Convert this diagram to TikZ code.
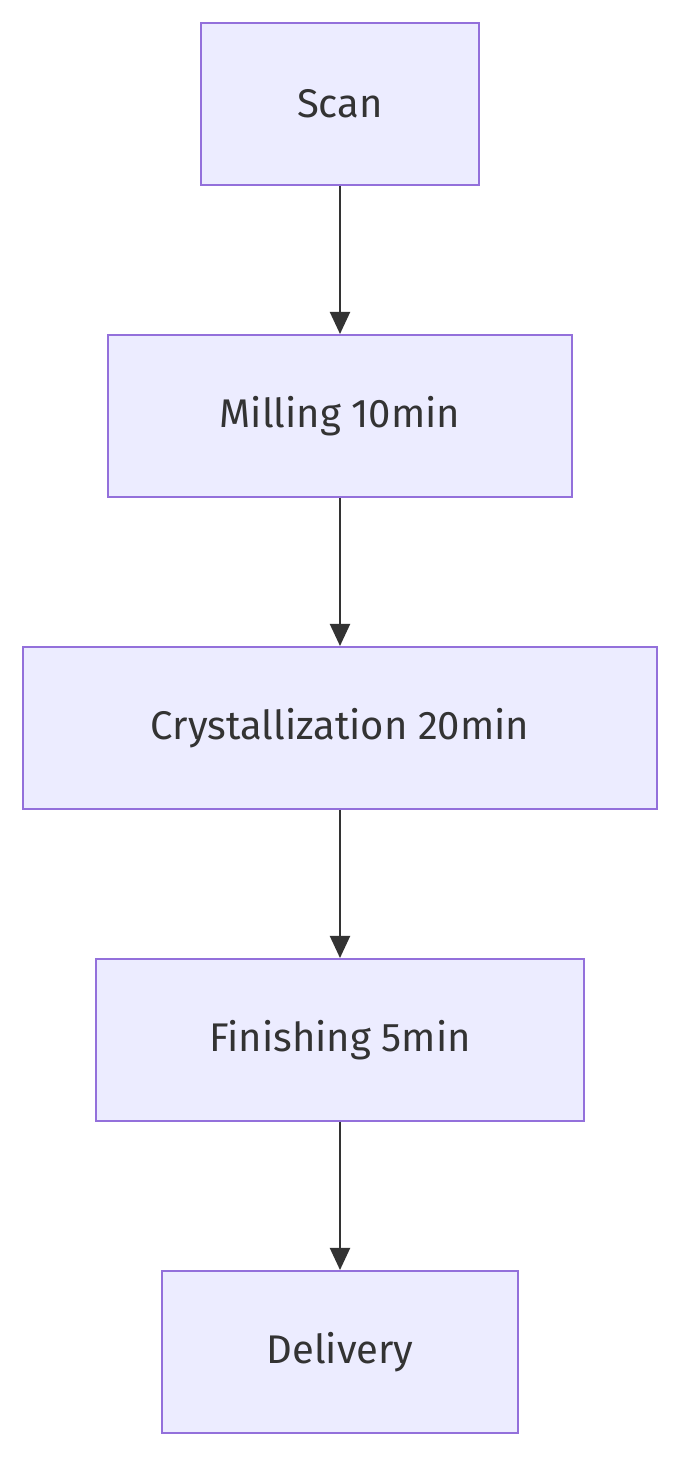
\documentclass[tikz,border=0pt]{standalone}
\usepackage{fontspec}
\setmainfont{Fira Sans}
\usetikzlibrary{arrows.meta}
\definecolor{boxfill}{HTML}{ECECFF}
\definecolor{boxline}{HTML}{9370DB}
\definecolor{txt}{HTML}{333333}
\begin{document}
\begin{tikzpicture}[x=1pt,y=1pt,
  stepbox/.style={draw=boxline,fill=boxfill,line width=2pt,text=txt,font=\fontsize{40}{48}\selectfont,inner sep=0pt},
  conn/.style={draw=txt,line width=2pt,-{Triangle[length=22pt,width=20pt]}}]
\useasboundingbox[fill=white] (0,0) rectangle (681,1458);
\node[stepbox,minimum width=278pt,minimum height=162pt] (a) at (340,1354) {Scan};
\node[stepbox,minimum width=464pt,minimum height=162pt] (b) at (340,1042) {Milling 10min};
\node[stepbox,minimum width=634pt,minimum height=162pt] (c) at (340,730) {Crystallization 20min};
\node[stepbox,minimum width=488pt,minimum height=162pt] (d) at (340,418) {Finishing 5min};
\node[stepbox,minimum width=356pt,minimum height=162pt] (e) at (340,106) {Delivery};
\draw[conn] (a) -- (b);
\draw[conn] (b) -- (c);
\draw[conn] (c) -- (d);
\draw[conn] (d) -- (e);
\end{tikzpicture}
\end{document}
